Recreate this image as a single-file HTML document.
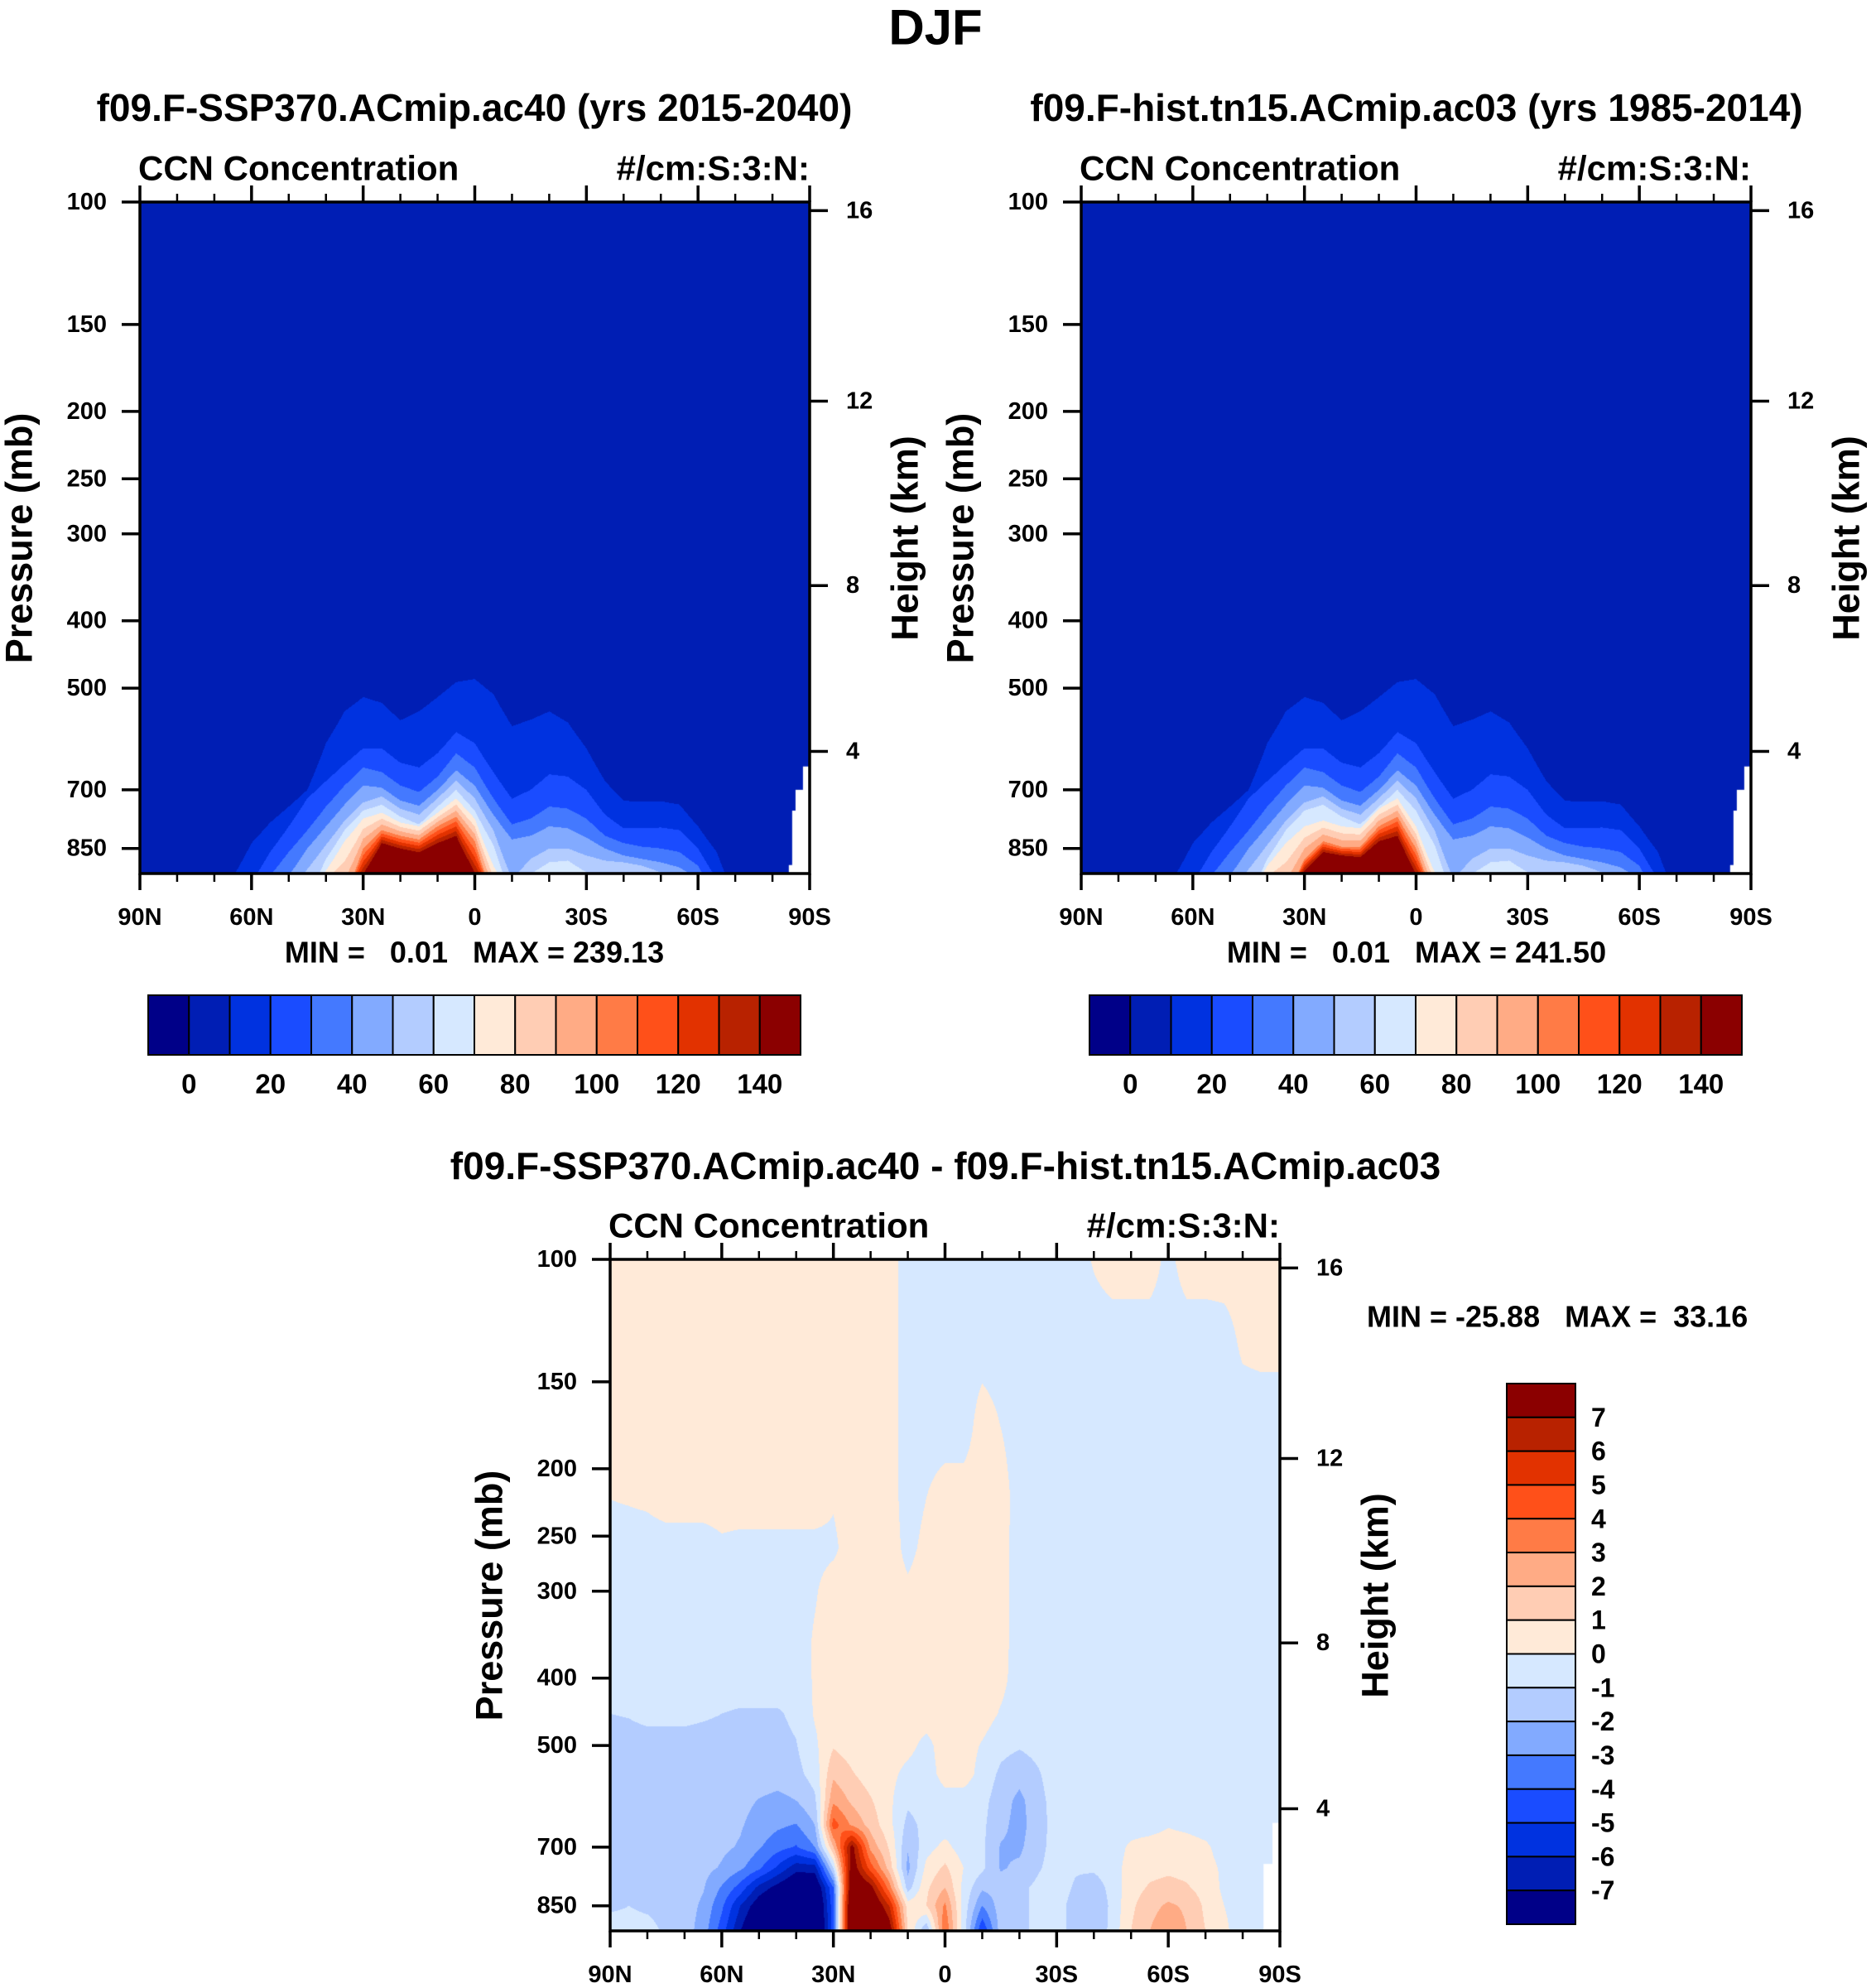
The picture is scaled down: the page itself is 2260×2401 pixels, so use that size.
<!DOCTYPE html>
<html><head><meta charset="utf-8">
<style>
html,body{margin:0;padding:0;background:#fff;}
#root{position:relative;width:2260px;height:2401px;overflow:hidden;font-family:"Liberation Sans",sans-serif;}
canvas{position:absolute;}
svg{position:absolute;left:0;top:0;}
</style></head>
<body>
<div id="root">
<canvas id="c1"></canvas>
<canvas id="c2"></canvas>
<canvas id="c3"></canvas>
<svg id="ov" width="2260" height="2401"></svg>
</div>
<script>
// ================= DATA =================
const lats=[90,85,80,75,70,65,60,55,50,45,40,35,30,25,20,15,10,5,0,-5,-10,-15,-20,-25,-30,-35,-40,-45,-50,-55,-60,-65,-70,-75,-80,-85,-90];
const contourValues=[10,20,30,40,50,60,70,100,140];
const sspCross10=[1000,1000,1000,1000,1000,935,835,780,740,700,600,540,515,525,556,540,515,490,485,510,567,555,540,560,610,680,726,728,727,735,790,860,1000,1000,1000,1000,1000];
const sspCross20=[1000,1000,1000,1000,1000,1000,950,860,790,720,680,643,610,610,640,650,620,578,600,660,721,700,665,670,700,760,795,795,793,800,850,940,1000,1000,1000,1000,1000];
const sspCross30=[1000,1000,1000,1000,1000,1000,1000,930,860,800,740,690,650,660,690,705,670,620,650,720,785,770,740,745,770,815,835,845,850,860,900,1000,1000,1000,1000,1000,1000];
const sspCross40=[1000,1000,1000,1000,1000,1000,1000,1000,930,850,790,735,690,695,725,738,700,656,690,760,825,815,790,795,820,850,870,880,890,905,940,1000,1000,1000,1000,1000,1000];
const sspCross50=[1000,1000,1000,1000,1000,1000,1000,1000,1000,910,840,775,730,715,745,760,720,678,720,800,940,880,850,850,870,885,890,900,920,1000,1000,1000,1000,1000,1000,1000,1000];
const sspCross60=[1000,1000,1000,1000,1000,1000,1000,1000,1000,1000,880,800,750,735,765,785,740,700,750,840,1000,925,890,885,920,1000,1000,1000,1000,1000,1000,1000,1000,1000,1000,1000,1000];
const sspCross70=[1000,1000,1000,1000,1000,1000,1000,1000,1000,1000,915,830,770,755,780,790,755,720,770,900,1000,1000,1000,1000,1000,1000,1000,1000,1000,1000,1000,1000,1000,1000,1000,1000,1000];
const sspCross100=[1000,1000,1000,1000,1000,1000,1000,1000,1000,1000,1000,1000,850,800,815,825,790,765,830,1000,1000,1000,1000,1000,1000,1000,1000,1000,1000,1000,1000,1000,1000,1000,1000,1000,1000];
const sspCross140=[1000,1000,1000,1000,1000,1000,1000,1000,1000,1000,1000,1000,925,835,850,861,835,815,920,1000,1000,1000,1000,1000,1000,1000,1000,1000,1000,1000,1000,1000,1000,1000,1000,1000,1000];

const histCross10=sspCross10.slice();
const histCross20=sspCross20.slice();
const histCross30=sspCross30.slice();
const histCross40=sspCross40.slice();
const histCross50=sspCross50.slice();
const histCross60=sspCross60.slice();
const histCross70=[1000,1000,1000,1000,1000,1000,1000,1000,1000,1000,900,835,790,775,790,795,745,720,790,920,1000,1000,1000,1000,1000,1000,1000,1000,1000,1000,1000,1000,1000,1000,1000,1000,1000];
const histCross100=[1000,1000,1000,1000,1000,1000,1000,1000,1000,1000,1000,1000,880,830,845,845,790,765,850,1000,1000,1000,1000,1000,1000,1000,1000,1000,1000,1000,1000,1000,1000,1000,1000,1000,1000];
const histCross140=[1000,1000,1000,1000,1000,1000,1000,1000,1000,1000,1000,1000,915,860,870,875,830,815,925,1000,1000,1000,1000,1000,1000,1000,1000,1000,1000,1000,1000,1000,1000,1000,1000,1000,1000];

const sspMinMax="MIN =   0.01   MAX = 239.13";
const histMinMax="MIN =   0.01   MAX = 241.50";
const diffMinMax="MIN = -25.88   MAX =  33.16";

const diffPress=[100,130,175,220,260,300,350,400,450,500,550,600,650,700,750,800,850,925];
const d100=[.5,.5,.5,.5,.5,.5,.5,.5,.5,.5,.5,.5,.5,.5,.5,.5,-.5,-.5,-.5,-.5,-.5,-.5,-.5,-.5,-.5,-.5,.1,.5,.5,.5,-.3,.5,.5,.5,.5,.5,.5];
const d130=[.5,.5,.5,.5,.5,.5,.5,.5,.5,.5,.5,.5,.5,.5,.5,.5,-.5,-.5,-.5,-.5,-.5,-.5,-.5,-.5,-.5,-.5,-.5,-.5,-.5,-.5,-.5,-.5,-.5,-.4,.2,.3,.3];
const d175=[.5,.5,.5,.5,.5,.5,.5,.5,.5,.5,.5,.5,.5,.5,.5,.5,-.5,-.5,-.5,-.5,.5,0,-.5,-.5,-.5,-.5,-.5,-.5,-.5,-.5,-.5,-.5,-.5,-.5,-.5,-.5,-.5];
const d220=[.02,.1,.2,.5,.5,.5,.5,.5,.5,.5,.5,.5,.1,.5,.5,.5,-.5,0,.5,.5,.5,.5,-.5,-.5,-.5,-.5,-.5,-.5,-.5,-.5,-.5,-.5,-.5,-.5,-.5,-.5,-.5];
const d260=[-.5,-.5,-.5,-.5,-.5,-.5,-.2,-.3,-.3,-.3,-.3,-.3,-.2,.5,.5,.5,-.3,.3,.5,.5,.5,.4,-.5,-.5,-.5,-.5,-.5,-.5,-.5,-.5,-.5,-.5,-.5,-.5,-.5,-.5,-.5];
const d300=[-.5,-.5,-.5,-.5,-.5,-.5,-.5,-.5,-.5,-.5,-.5,-.1,.5,.5,.5,.5,.2,.5,.5,.5,.5,.4,-.5,-.5,-.5,-.5,-.5,-.5,-.5,-.5,-.5,-.5,-.5,-.5,-.5,-.5,-.5];
const d350=[-.5,-.5,-.5,-.5,-.5,-.5,-.5,-.5,-.5,-.5,-.5,.1,.5,.5,.5,.5,.5,.5,.5,.5,.5,.4,-.5,-.5,-.5,-.5,-.5,-.5,-.5,-.5,-.5,-.5,-.5,-.5,-.5,-.5,-.5];
const d400=[-.5,-.5,-.5,-.5,-.5,-.5,-.5,-.5,-.5,-.5,-.5,.1,.5,.5,.5,.5,.5,.5,.5,.5,.5,.3,-.5,-.5,-.5,-.5,-.5,-.5,-.5,-.5,-.5,-.5,-.5,-.5,-.5,-.5,-.5];
const d450=[-1,-.95,-.8,-.8,-.8,-.9,-1,-1.1,-1.1,-1.1,-.8,.1,.5,.5,.5,.5,.5,.5,.5,.5,.5,-.1,-.5,-.5,-.5,-.5,-.5,-.5,-.5,-.5,-.5,-.5,-.5,-.5,-.5,-.5,-.5];
const d500=[-1.3,-1.3,-1.3,-1.3,-1.3,-1.3,-1.3,-1.3,-1.3,-1.3,-1.05,-.2,.9,.5,.5,.5,.3,-.3,.5,.5,-.1,-.7,-.9,-.7,-.5,-.5,-.5,-.5,-.5,-.5,-.5,-.5,-.5,-.5,-.5,-.5,-.5];
const d550=[-1.4,-1.4,-1.4,-1.4,-1.4,-1.4,-1.4,-1.4,-1.4,-1.5,-1.3,-.6,1.8,1.1,.5,.3,-.3,-.5,.4,.5,-.4,-1.2,-1.6,-1.1,-.5,-.5,-.5,-.5,-.5,-.5,-.5,-.5,-.5,-.5,-.5,-.5,-.5];
const d600=[-1.4,-1.4,-1.4,-1.4,-1.4,-1.4,-1.5,-1.7,-2.05,-2.3,-2,-1.2,2.8,1.8,1.1,.2,-.8,-.6,-.4,-.5,-.7,-1.5,-2.3,-1.3,-.6,-.5,-.5,-.5,-.5,-.5,-.5,-.5,-.5,-.5,-.5,-.5,-.5];
const d650=[-1.4,-1.4,-1.4,-1.4,-1.4,-1.4,-1.6,-1.9,-2.4,-2.8,-3.05,-2,4.5,2.8,1.6,.3,-1.3,-.7,-.5,-.5,-.8,-1.7,-2.4,-1.4,-.6,-.5,-.5,-.5,-.5,-.5,-.1,-.3,-.5,-.5,-.5,-.5,-.5];
const d700=[-1.4,-1.4,-1.4,-1.4,-1.4,-1.6,-1.8,-2.1,-2.9,-3.6,-4.1,-3,2,7.5,2.7,.9,-1.9,-.4,.3,-.5,-.8,-2.1,-2.2,-1.3,-.6,-.5,-.5,-.5,.2,.5,.6,.5,.2,-.5,-.5,-.5,-.5];
const d750=[-1.4,-1.4,-1.4,-1.4,-1.4,-1.7,-2.1,-2.8,-3.8,-5.2,-6.6,-6.5,-1,8,4.5,1.6,-2.3,.3,1.2,0,-.8,-2.1,-1.8,-1.1,-.6,-.9,-.8,-.4,.4,.7,.8,.7,.4,-.2,-.5,-.5,-.5];
const d800=[-1.3,-1.3,-1.3,-1.3,-1.5,-1.9,-3.1,-4.4,-6.3,-7.4,-8.5,-8.5,-4,9,7.5,3.5,-1.5,.8,2,-.3,-1.8,-1.6,-1.2,-.8,-.6,-1.1,-1.6,-.6,.6,1.1,1.3,1.1,.6,-.2,-.5,-.5,-.5];
const d850=[-1.1,-1,-1.1,-1.2,-1.5,-2.2,-3.8,-6,-7.8,-9,-9.5,-9.5,-4.3,10,9,6,.5,1,3.2,-.4,-3,-1.5,-1.2,-.8,-.7,-1.3,-2,-.7,.8,1.6,2.2,1.8,.8,0,-.4,-.5,-.5];
const d925=[-.7,-.8,-.8,-1.1,-1.5,-2.5,-4.5,-7,-9,-10,-10,-10,-4.3,10,10,8,1,-2,4,-.5,-5,-1.5,-1.2,-.8,-.7,-1.3,-2,-.6,1,2,3,2,1,.2,-.5,-.5,-.5];

const topLevels=[0,10,20,30,40,50,60,70,80,90,100,110,120,130,140];
const diffLevels=[-7,-6,-5,-4,-3,-2,-1,0,1,2,3,4,5,6,7];
const topCbLabels=["0","20","40","60","80","100","120","140"];
const diffCbLabels=["7","6","5","4","3","2","1","0","-1","-2","-3","-4","-5","-6","-7"];
const pressTicks=[100,150,200,250,300,400,500,700,850];
const heightTicks=[4,8,12,16];
const latTicks=[90,60,30,0,-30,-60,-90];
const latTickLabels=["90N","60N","30N","0","30S","60S","90S"];

const palette=["#000088","#001EB4","#0032E0","#1A4CFF","#4479FF","#82AAFF","#B3CCFF","#D6E8FF","#FFEAD8","#FFCDB4","#FFAB85","#FF7B46","#FF5019","#E23200","#B82200","#8B0000"];

// ================= GEOMETRY =================
const FW=809, FH=811, K=840;
const plots=[
 {x:169,y:244,canvas:'c1',type:'cross',cross:[sspCross10,sspCross20,sspCross30,sspCross40,sspCross50,sspCross60,sspCross70,sspCross100,sspCross140],levels:topLevels,name:'ssp370',missing:[[-88.2,648],[-86.2,700],[-85.3,750],[-84.4,898]]},
 {x:1306,y:244,canvas:'c2',type:'cross',cross:[histCross10,histCross20,histCross30,histCross40,histCross50,histCross60,histCross70,histCross100,histCross140],levels:topLevels,name:'hist',missing:[[-88.2,648],[-86.2,700],[-85.3,750],[-84.4,898]]},
 {x:737,y:1521,canvas:'c3',type:'grid',rows:[d100,d130,d175,d220,d260,d300,d350,d400,d450,d500,d550,d600,d650,d700,d750,d800,d850,d925],press:diffPress,levels:diffLevels,name:'diff',missing:[[-88,646],[-85.6,740]]}
];
function yOfP(pl,p){return pl.y+K*Math.log10(p/100);}
function xOfLat(pl,lat){return pl.x+(90-lat)/180*FW;}
function pOfZ(z){
 if(z<=11) return 1013.25*Math.pow(1-0.0065*z*1000/288.15,5.2559);
 return 226.32*Math.exp(-(z-11)/6.3416);
}
function hex(c){return [parseInt(c.slice(1,3),16),parseInt(c.slice(3,5),16),parseInt(c.slice(5,7),16)];}
const rgb=palette.map(hex);

function latIndex(lat){
 let fi=(lats[0]-lat)/(lats[0]-lats[lats.length-1])*(lats.length-1);
 fi=Math.max(0,Math.min(lats.length-1.0001,fi));
 const i=Math.floor(fi); return [i,fi-i];
}
function sampleCross(pl,lat,p){
 const [i,t]=latIndex(lat);
 const cps=pl.cross.map(a=>a[i]*(1-t)+a[i+1]*t);
 if(p<cps[0]) return 5;
 for(let k=0;k<cps.length-1;k++){
  if(p>=cps[k] && p<cps[k+1]){
   const den=cps[k+1]-cps[k];
   return contourValues[k]+(contourValues[k+1]-contourValues[k])*(den>0?(p-cps[k])/den:0);
  }
 }
 return 200;
}
function sampleGrid(pl,lat,p){
 const [i,tx]=latIndex(lat);
 const P=pl.press, lp=Math.log(p);
 let j=0; while(j<P.length-2 && Math.log(P[j+1])<lp) j++;
 let ty=(lp-Math.log(P[j]))/(Math.log(P[j+1])-Math.log(P[j]));
 ty=Math.max(0,Math.min(1,ty));
 const r0=pl.rows[j], r1=pl.rows[j+1];
 const a=r0[i]*(1-tx)+r0[i+1]*tx, b=r1[i]*(1-tx)+r1[i+1]*tx;
 return a*(1-ty)+b*ty;
}
function drawField(pl){
 const c=document.getElementById(pl.canvas);
 c.width=FW; c.height=FH; c.style.left=pl.x+'px'; c.style.top=pl.y+'px';
 const ctx=c.getContext('2d'); const im=ctx.createImageData(FW,FH); const d=im.data;
 for(let py=0;py<FH;py++){
  const p=100*Math.pow(10,(py+0.5)/K);
  for(let px=0;px<FW;px++){
   const lat=90-(px+0.5)/FW*180;
   const v=pl.type==='cross'?sampleCross(pl,lat,p):sampleGrid(pl,lat,p);
   let k=0; while(k<pl.levels.length && v>=pl.levels[k]) k++;
   const col=rgb[k]; const o=(py*FW+px)*4;
   d[o]=col[0]; d[o+1]=col[1]; d[o+2]=col[2]; d[o+3]=255;
  }
 }
 ctx.putImageData(im,0,0);
 ctx.fillStyle='#fff';
 pl.missing.forEach(m=>{const x0=(90-m[0])/180*FW; const y0=K*Math.log10(m[1]/100); ctx.fillRect(x0,y0,FW-x0,FH-y0);});
}
plots.forEach(drawField);

// ================= SVG OVERLAY =================
const NS='http://www.w3.org/2000/svg';
const svg=document.getElementById('ov');
function el(tag,attrs,parent){const e=document.createElementNS(NS,tag);for(const k in attrs)e.setAttribute(k,attrs[k]);(parent||svg).appendChild(e);return e;}
function txt(s,x,y,size,anchor,parent,extra){const t=el('text',Object.assign({x:x,y:y,'font-size':size,'font-weight':'bold','text-anchor':anchor||'middle','dominant-baseline':'central','font-family':'Liberation Sans, sans-serif'},extra||{}),parent);t.setAttribute('xml:space','preserve');t.style.whiteSpace='pre';t.textContent=s;return t;}

const mainTitle=txt('DJF',1130,33,60,'middle');



const titles=[['f09.F-SSP370.ACmip.ac40 (yrs 2015-2040)',573,130],['f09.F-hist.tn15.ACmip.ac03 (yrs 1985-2014)',1711,130],['f09.F-SSP370.ACmip.ac40 - f09.F-hist.tn15.ACmip.ac03',1142,1408]];
const minmax=[[sspMinMax,573,1150,'middle'],[histMinMax,1711,1150,'middle'],[diffMinMax,1651,1590,'start']];

plots.forEach((pl,idx)=>{
 const g=el('g',{});
 
 
 const t=txt(titles[idx][0],titles[idx][1],titles[idx][2],46,'middle',g);
 
 
 const l=txt('CCN Concentration',pl.x-2,pl.y-41,42,'start',g);
 
 
 const u=txt('#/cm:S:3:N:',pl.x+FW,pl.y-41,42,'end',g);
 
 
 const fr=el('rect',{x:pl.x,y:pl.y,width:FW,height:FH,fill:'none',stroke:'#000','stroke-width':3.5},g);
 
 
 for(let lat=90;lat>=-90;lat-=10){
  const x=xOfLat(pl,lat); const major=(lat%30===0);
  const len=major?20:10;
  el('line',{x1:x,y1:pl.y+FH,x2:x,y2:pl.y+FH+len,stroke:'#000','stroke-width':major?3.5:2.5},g);
  el('line',{x1:x,y1:pl.y,x2:x,y2:pl.y-len,stroke:'#000','stroke-width':major?3.5:2.5},g);
 }
 latTicks.forEach((lat,i)=>{
  const tl=txt(latTickLabels[i],xOfLat(pl,lat),pl.y+FH+53,29,'middle',g);
  
  
 });
 pressTicks.forEach(p=>{
  const y=yOfP(pl,p);
  el('line',{x1:pl.x-22,y1:y,x2:pl.x,y2:y,stroke:'#000','stroke-width':3.5},g);
  const tl=txt(String(p),pl.x-40,y,29,'end',g);
  
  
 });
 heightTicks.forEach(z=>{
  const y=yOfP(pl,pOfZ(z));
  el('line',{x1:pl.x+FW,y1:y,x2:pl.x+FW+22,y2:y,stroke:'#000','stroke-width':3.5},g);
  const tl=txt(String(z),pl.x+FW+44,y,29,'start',g);
  
  
 });
 const cy=pl.y+406;
 const py=txt('Pressure (mb)',pl.x-146,cy,45,'middle',g,{transform:'rotate(-90 '+(pl.x-146)+' '+cy+')'});
 
 
 const hy=txt('Height (km)',pl.x+FW+115,cy,45,'middle',g,{transform:'rotate(-90 '+(pl.x+FW+115)+' '+cy+')'});
 
 
 const mm=txt(minmax[idx][0],minmax[idx][1],minmax[idx][2],36,minmax[idx][3],g);
 
 
});

[179,1316].forEach((cx,ci)=>{
 const g=el('g',{});
 
 
 const bw=(967-179)/16;
 palette.forEach((c,i)=>{
  const r=el('rect',{x:cx+i*bw,y:1202,width:bw,height:72,fill:c,stroke:'#000','stroke-width':2},g);
  
  
 });
 topCbLabels.forEach((s,i)=>{
  const t=txt(s,cx+(1+2*i)*bw,1309,33,'middle',g);
  
  
 });
});
(function(){
 const g=el('g',{});
 
 
 const x=1820,y0=1671,w=83,bh=(2324-1671)/16;
 for(let i=0;i<16;i++){
  const r=el('rect',{x:x,y:y0+i*bh,width:w,height:bh,fill:palette[15-i],stroke:'#000','stroke-width':2},g);
  
  
 }
 diffCbLabels.forEach((s,i)=>{
  const t=txt(s,1922,y0+(i+1)*bh,32,'start',g);
  
  
 });
})();
</script>
</body></html>
